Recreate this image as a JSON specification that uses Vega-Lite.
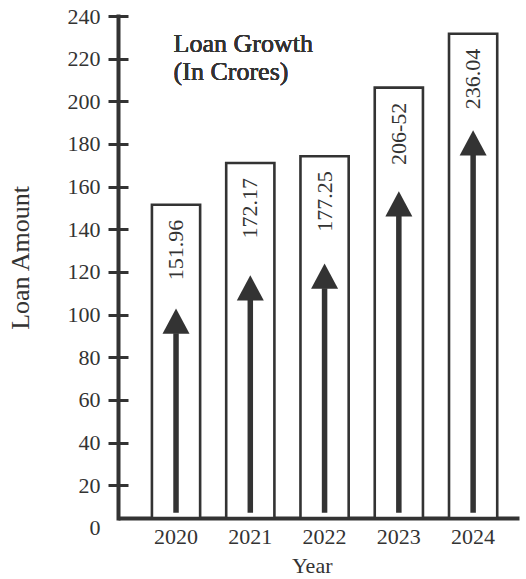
{
  "$schema": "https://vega.github.io/schema/vega-lite/v6.json",
  "autosize": "none",
  "padding": {"left": 118, "top": 16, "right": 7, "bottom": 51.2},
  "width": 401,
  "height": 511.8,
  "background": "white",
  "config": {
    "view": {"stroke": null},
    "axis": {"grid": false},
    "axisX": {
      "offset": -9.8, "domain": true, "domainColor": "#333", "domainWidth": 4,
      "ticks": false, "tickSize": 0,
      "labelFont": "Liberation Serif", "labelFontSize": 22, "labelColor": "#333",
      "labelBaseline": "alphabetic", "labelPadding": 25, "labelAngle": 0,
      "titleFont": "Liberation Serif", "titleFontSize": 22,
      "titleFontWeight": "normal", "titleColor": "#333",
      "titleX": 193.7, "titleY": 54.3, "titleBaseline": "alphabetic", "titleAlign": "center",
      "zindex": 1
    }
  },
  "data": {
    "values": [
      {"year": "2020", "label": "151.96", "bar": 151.5, "arrow": 91.2},
      {"year": "2021", "label": "172.17", "bar": 171.1, "arrow": 106.8},
      {"year": "2022", "label": "177.25", "bar": 174.2, "arrow": 112.3},
      {"year": "2023", "label": "206-52", "bar": 206.4, "arrow": 146.2},
      {"year": "2024", "label": "236.04", "bar": 231.7, "arrow": 174.8}
    ]
  },
  "layer": [
    {
      "mark": {"type": "bar", "fill": "white", "stroke": "#333", "strokeWidth": 2.6},
      "encoding": {
        "x": {
          "field": "year", "type": "ordinal", "title": "Year",
          "scale": {"paddingInner": 0.351, "paddingOuter": 0.375, "align": 0.609}
        },
        "y": {
          "field": "bar", "type": "quantitative",
          "scale": {"domain": [0, 240], "nice": false, "zero": true},
          "axis": {
            "orient": "left",
            "values": [0, 20, 40, 60, 80, 100, 120, 140, 160, 180, 200, 220, 240],
            "domain": true, "domainColor": "#333", "domainWidth": 4,
            "domainDash": [502, 30], "domainDashOffset": 522.2, "domainCap": "square",
            "ticks": true, "tickSize": 10, "tickWidth": 3, "tickColor": "#333",
            "tickOpacity": {"condition": {"test": "datum.value === 0", "value": 0}, "value": 1},
            "labelFont": "Liberation Serif", "labelFontSize": 22, "labelColor": "#333",
            "labelPadding": 8, "labelOverlap": false,
            "title": "Loan Amount", "titleFont": "Liberation Serif", "titleFontSize": 26,
            "titleFontWeight": "normal", "titleColor": "#333",
            "titleX": -90, "titleY": 241.5, "titleBaseline": "alphabetic",
            "titleAngle": 270, "titleAlign": "center",
            "zindex": 1
          }
        },
        "y2": {"datum": 4.6}
      }
    },
    {
      "mark": {"type": "rule", "color": "#333", "strokeWidth": 5.5, "strokeCap": "butt"},
      "encoding": {
        "x": {"field": "year", "type": "ordinal", "title": "Year"},
        "y": {"field": "arrow", "type": "quantitative", "axis": null},
        "y2": {"datum": 7}
      }
    },
    {
      "mark": {"type": "point", "shape": "M0,-1.83L1,0.03L-1,0.03Z", "size": 729, "filled": true, "color": "#333", "strokeWidth": 0, "opacity": 1},
      "encoding": {
        "x": {"field": "year", "type": "ordinal", "title": "Year"},
        "y": {
          "field": "arrow", "type": "quantitative",
          "axis": {
            "orient": "left", "offset": -10,
            "values": [20, 40, 60, 80, 100, 120, 140, 160, 180, 200, 220, 240],
            "domain": false, "labels": false, "ticks": true, "tickSize": 10,
            "tickWidth": 3, "tickColor": "#333", "title": null, "grid": false
          }
        }
      }
    },
    {
      "mark": {"type": "text", "angle": 270, "align": "right", "baseline": "middle", "dx": -15, "font": "Liberation Serif", "fontWeight": "normal", "fontSize": 22, "color": "#333"},
      "encoding": {
        "x": {"field": "year", "type": "ordinal", "title": "Year"},
        "y": {"field": "bar", "type": "quantitative", "axis": null},
        "text": {"field": "label"}
      }
    },
    {
      "mark": {"type": "text", "text": ["Loan Growth", "(In Crores)"], "align": "left", "baseline": "alphabetic", "font": "Liberation Serif", "fontWeight": "normal", "fontSize": 26, "lineHeight": 28.3, "color": "#333"},
      "encoding": {
        "x": {"datum": "2020", "type": "ordinal", "bandPosition": 0.45, "title": "Year"},
        "y": {"datum": 223.3, "type": "quantitative", "axis": null}
      }
    }
  ],
  "resolve": {"axis": {"y": "independent"}}
}
